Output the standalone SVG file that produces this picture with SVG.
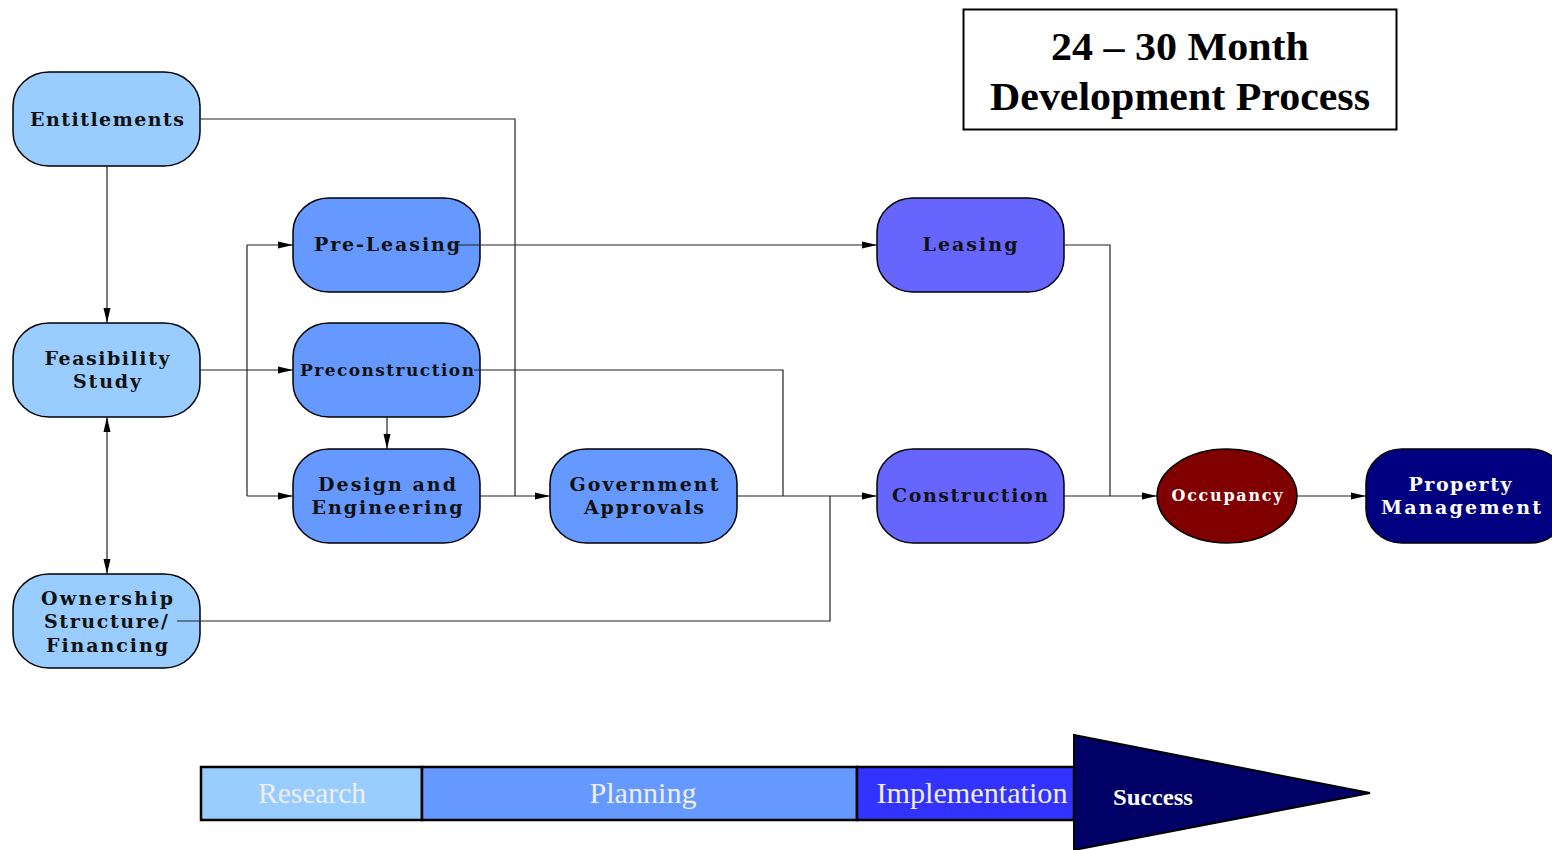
<svg xmlns="http://www.w3.org/2000/svg" width="1552" height="850" viewBox="0 0 1552 850">
<style>
.node{stroke:#000;stroke-width:1.5}
.n1{fill:#99CCFF}
.n2{fill:#6699FF}
.n3{fill:#6666FF}
.lbl{font-family:"DejaVu Serif","Liberation Serif",serif;font-weight:bold;font-size:19px;fill:#111;text-anchor:middle}
.sm{font-size:17px}
.xs{font-size:16px}
.wl{fill:#fff}
.conn{fill:none;stroke:#222;stroke-width:1.2}
.title{font-family:"Liberation Serif",serif;font-weight:bold;font-size:41px;fill:#000;text-anchor:middle}
.bar{stroke:#000;stroke-width:2.5}
.barlbl{font-family:"Liberation Serif",serif;font-size:29px;fill:#EEEEEE;text-anchor:middle}
</style>
<defs>
<marker id="arr" markerUnits="userSpaceOnUse" markerWidth="16" markerHeight="8" refX="15" refY="4" orient="auto-start-reverse">
<path d="M0,0.5 L15,4 L0,7.5 z" fill="#000"/>
</marker>
</defs>
<rect width="1552" height="850" fill="#fff"/>

<g id="title">
<rect x="963.5" y="9.5" width="433" height="120" fill="#fff" stroke="#000" stroke-width="2"/>
<text class="title" x="1180" y="60" textLength="258" lengthAdjust="spacingAndGlyphs">24 – 30 Month</text>
<text class="title" x="1180" y="110" textLength="380" lengthAdjust="spacingAndGlyphs">Development Process</text>
</g>

<g id="entitlements">
<rect class="node n1" x="13" y="72" width="187" height="94" rx="36" ry="34"/>
<text class="lbl" x="107" y="126" textLength="154">Entitlements</text>
</g>
<g id="feasibility">
<rect class="node n1" x="13" y="323" width="187" height="94" rx="36" ry="34"/>
<text class="lbl" x="107" y="365" textLength="125">Feasibility</text>
<text class="lbl" x="107" y="388" textLength="68">Study</text>
</g>
<g id="ownership">
<rect class="node n1" x="13" y="574" width="187" height="94" rx="36" ry="34"/>
<text class="lbl" x="107" y="605" textLength="132">Ownership</text>
<text class="lbl" x="106" y="628" textLength="124">Structure/</text>
<text class="lbl" x="107" y="652" textLength="122">Financing</text>
</g>
<g id="preleasing">
<rect class="node n2" x="293" y="198" width="187" height="94" rx="36" ry="34"/>
<text class="lbl" x="387" y="251" textLength="146">Pre-Leasing</text>
</g>
<g id="preconstruction">
<rect class="node n2" x="293" y="323" width="187" height="94" rx="36" ry="34"/>
<text class="lbl sm" x="387" y="376" textLength="174">Preconstruction</text>
</g>
<g id="design">
<rect class="node n2" x="293" y="449" width="187" height="94" rx="36" ry="34"/>
<text class="lbl" x="387" y="491" textLength="138">Design and</text>
<text class="lbl" x="387" y="514" textLength="151">Engineering</text>
</g>
<g id="government">
<rect class="node n2" x="550" y="449" width="187" height="94" rx="36" ry="34"/>
<text class="lbl" x="644" y="491" textLength="149">Government</text>
<text class="lbl" x="644" y="514" textLength="120">Approvals</text>
</g>
<g id="leasing">
<rect class="node n3" x="877" y="198" width="187" height="94" rx="36" ry="34"/>
<text class="lbl" x="970" y="251" textLength="95">Leasing</text>
</g>
<g id="construction">
<rect class="node n3" x="877" y="449" width="187" height="94" rx="36" ry="34"/>
<text class="lbl" x="970" y="502" textLength="156">Construction</text>
</g>
<g id="occupancy">
<ellipse class="node" cx="1227" cy="496" rx="70" ry="47" fill="#800000"/>
<text class="lbl xs wl" x="1227" y="501" textLength="111">Occupancy</text>
</g>
<g id="propertymanagement">
<rect class="node" x="1366" y="449" width="200" height="94" rx="36" ry="34" fill="#000080"/>
<text class="lbl wl" x="1460" y="491" textLength="103">Property</text>
<text class="lbl wl" x="1461" y="514" textLength="160">Management</text>
</g>

<g id="connectors">
<path class="conn" d="M107,166 V323" marker-end="url(#arr)"/>
<path class="conn" d="M200,370 H293" marker-end="url(#arr)"/>
<path class="conn" d="M247,496 V245"/>
<path class="conn" d="M247,245 H293" marker-end="url(#arr)"/>
<path class="conn" d="M247,496 H293" marker-end="url(#arr)"/>
<path class="conn" d="M107,417 V574" marker-start="url(#arr)" marker-end="url(#arr)"/>
<path class="conn" d="M200,119 H515 V496"/>
<path class="conn" d="M458,245 H877" marker-end="url(#arr)"/>
<path class="conn" d="M474,370 H783 V496"/>
<path class="conn" d="M387,417 V449" marker-end="url(#arr)"/>
<path class="conn" d="M480,496 H550" marker-end="url(#arr)"/>
<path class="conn" d="M737,496 H877" marker-end="url(#arr)"/>
<path class="conn" d="M177,621 H830 V496"/>
<path class="conn" d="M1064,245 H1110 V496"/>
<path class="conn" d="M1064,496 H1157" marker-end="url(#arr)"/>
<path class="conn" d="M1297,496 H1366" marker-end="url(#arr)"/>
</g>

<g id="timeline">
<rect class="bar" x="201" y="767" width="221" height="53" fill="#99CCFF"/>
<rect class="bar" x="422" y="767" width="435" height="53" fill="#6699FF"/>
<rect class="bar" x="857" y="767" width="217" height="53" fill="#3333FF"/>
<polygon points="1074,735 1370,793 1074,850" fill="#000066" stroke="#000" stroke-width="2"/>
<text class="barlbl" x="312" y="803" textLength="108" lengthAdjust="spacingAndGlyphs">Research</text>
<text class="barlbl" x="643" y="803" textLength="107" lengthAdjust="spacingAndGlyphs">Planning</text>
<text class="barlbl" x="972" y="803" textLength="191" lengthAdjust="spacingAndGlyphs">Implementation</text>
<text x="1153" y="805" font-family="Liberation Serif,serif" font-weight="bold" font-size="24" fill="#fff" text-anchor="middle" textLength="80" lengthAdjust="spacingAndGlyphs">Success</text>
</g>
</svg>
